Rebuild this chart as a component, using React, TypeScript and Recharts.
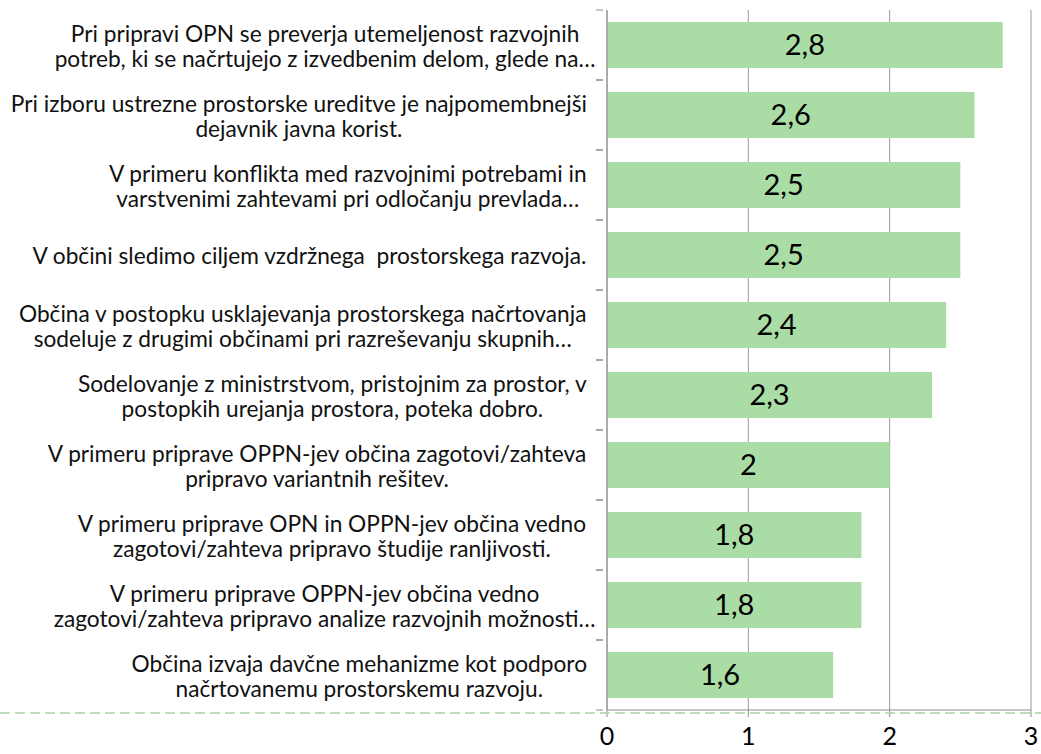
import { Bar, BarChart, CartesianGrid, LabelList, XAxis, YAxis } from "recharts";

const categories = [
  "Pri pripravi OPN se preverja utemeljenost razvojnih\npotreb, ki se načrtujejo z izvedbenim delom, glede na…",
  "Pri izboru ustrezne prostorske ureditve je najpomembnejši\ndejavnik javna korist.",
  "V primeru konflikta med razvojnimi potrebami in\nvarstvenimi zahtevami pri odločanju prevlada…",
  "V občini sledimo ciljem vzdržnega  prostorskega razvoja.",
  "Občina v postopku usklajevanja prostorskega načrtovanja\nsodeluje z drugimi občinami pri razreševanju skupnih…",
  "Sodelovanje z ministrstvom, pristojnim za prostor, v\npostopkih urejanja prostora, poteka dobro.",
  "V primeru priprave OPPN-jev občina zagotovi/zahteva\npripravo variantnih rešitev.",
  "V primeru priprave OPN in OPPN-jev občina vedno\nzagotovi/zahteva pripravo študije ranljivosti.",
  "V primeru priprave OPPN-jev občina vedno\nzagotovi/zahteva pripravo analize razvojnih možnosti…",
  "Občina izvaja davčne mehanizme kot podporo\nnačrtovanemu prostorskemu razvoju.",
];

const values = [2.8, 2.6, 2.5, 2.5, 2.4, 2.3, 2, 1.8, 1.8, 1.6];

const xTicks = [0, 1, 2, 3];

const data = categories.map((name, i) => ({ name, value: values[i] }));

const FONT = "Lato, 'Open Sans', sans-serif";
const LABEL_SIZE = 22.7;

let ctx: CanvasRenderingContext2D | null = null;
function measure(s: string) {
  if (!ctx) ctx = document.createElement("canvas").getContext("2d");
  if (!ctx) return s.length * 10;
  ctx.font = `${LABEL_SIZE}px Lato`;
  return ctx.measureText(s).width;
}

function CategoryTick(props: any) {
  const { x, y, payload } = props;
  const lines: string[] = String(payload.value).split("\n");
  const half = payload.offset ?? 35;
  const axisX = x + 16;
  const lineH = 25;
  // excel centres the wrapped lines inside a right-aligned block; ellipsis overflows
  const blockW = Math.max(...lines.map((l) => measure(l.replace("…", ""))));
  const cx = x - blockW / 2;
  const startY = y - ((lines.length - 1) * lineH) / 2;
  return (
    <g>
      <line x1={axisX - 7} x2={axisX} y1={y - half} y2={y - half} stroke="#8c8c8c" />
      <line x1={axisX - 7} x2={axisX} y1={y + half} y2={y + half} stroke="#8c8c8c" />
      <text
        x={cx}
        y={startY}
        textAnchor="middle"
        fontSize={LABEL_SIZE}
        fontFamily={FONT}
        fill="#111"
        dominantBaseline="central"
        style={{ whiteSpace: "pre" }}
      >
        {lines.map((l, i) => (
          <tspan key={i} x={cx} y={startY + i * lineH}>
            {l}
          </tspan>
        ))}
      </text>
    </g>
  );
}

export default function App() {
  return (
    <div style={{ position: "absolute", left: 0, top: 0, width: 1041, height: 754, background: "#fff" }}>
      <BarChart
        width={1041}
        height={754}
        data={data}
        layout="vertical"
        margin={{ top: 10, right: 10, left: 0, bottom: 14 }}
        barCategoryGap={12}
      >
        <CartesianGrid horizontal={false} stroke="#9a9a9a" />
        <XAxis
          type="number"
          domain={[0, 3]}
          ticks={xTicks}
          height={30}
          stroke="#8c8c8c"
          tickSize={7}
          tickMargin={10}
          tick={{ fontSize: 25, fill: "#000", fontFamily: FONT }}
        />
        <YAxis
          type="category"
          dataKey="name"
          width={607}
          stroke="#8c8c8c"
          tickLine={false}
          tickSize={0}
          tickMargin={20}
          interval={0}
          tick={<CategoryTick />}
        />
        <Bar dataKey="value" fill="#aadda5" isAnimationActive={false}>
          <LabelList
            dataKey="value"
            position="center"
            fill="#000"
            fontSize={29}
            fontFamily={FONT}
            formatter={(v: any) => String(v).replace(".", ",")}
          />
        </Bar>
      </BarChart>
      <svg
        width={1041}
        height={4}
        style={{ position: "absolute", left: 0, top: 711 }}
      >
        <line x1={0} x2={1041} y1={2} y2={2} stroke="#a9d4a5" strokeWidth={1.5} strokeDasharray="10 5" />
      </svg>
    </div>
  );
}
